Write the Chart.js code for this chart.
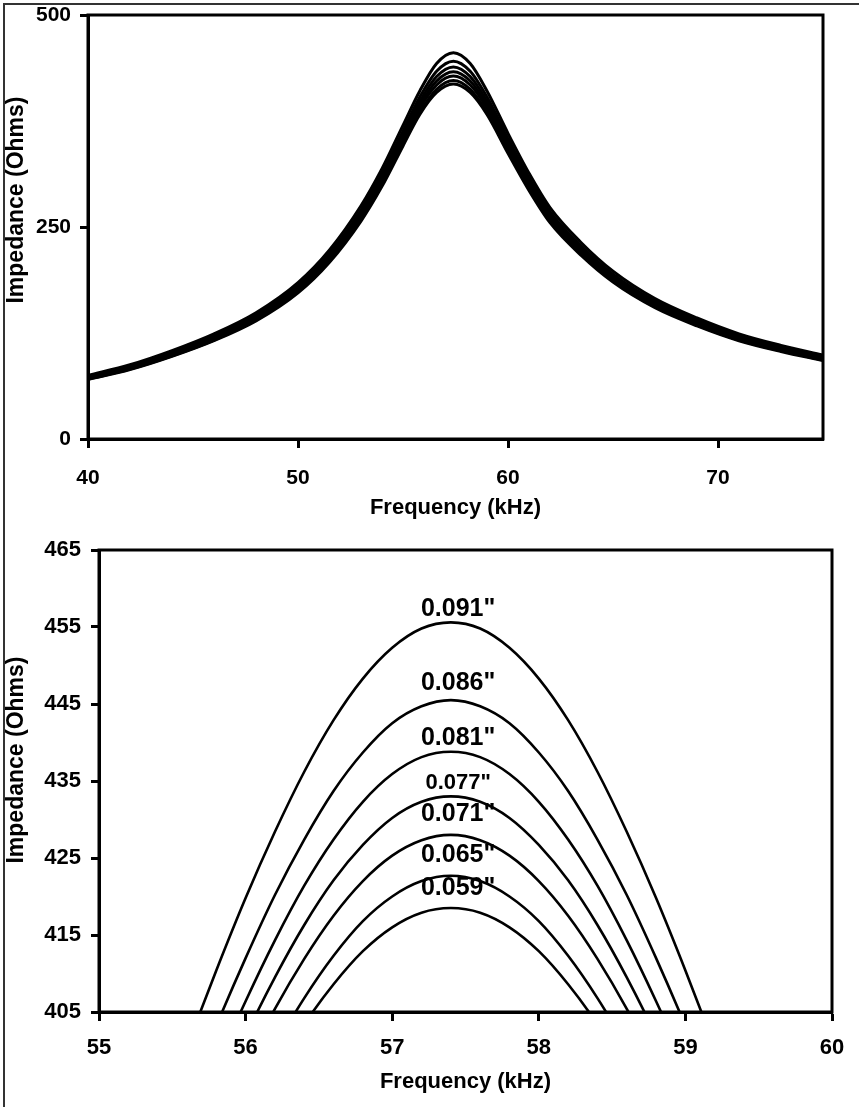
<!DOCTYPE html>
<html><head><meta charset="utf-8">
<script src="https://cdn.jsdelivr.net/npm/chart.js@4.4.1/dist/chart.umd.min.js"></script>
<style>
html,body{margin:0;padding:0;background:#fff;width:859px;height:1107px;overflow:hidden;position:relative}
#frame{position:absolute;left:3px;top:3px;width:900px;height:1200px;border-left:2px solid #333;border-top:2px solid #333;box-sizing:border-box}
.box{position:absolute;left:0;width:859px}
#topBox{top:0;height:530px}
#botBox{top:530px;height:577px}
canvas{display:block}
</style></head><body>
<div id="frame"></div>
<div class="box" id="topBox"><canvas id="topChart" width="859" height="530"></canvas></div>
<div class="box" id="botBox"><canvas id="botChart" width="859" height="577"></canvas></div>
<script>
// ---------- data ----------
const seriesNames = ['0.091"', '0.086"', '0.081"', '0.077"', '0.071"', '0.065"', '0.059"'];

// Top chart: full sweep 40-75 kHz
const topFreq = [40, 42, 44, 46, 48, 50, 51.5, 53, 54, 55, 55.8, 56.6, 57.4, 58.2, 59, 60, 61, 62, 63.5, 65, 67, 69, 71, 73, 75];
const top091 = [75.0, 87.5, 104.2, 124.0, 148.9, 184.4, 222.9, 275.0, 318.7, 369.8, 410.4, 442.9, 455.6, 442.9, 410.4, 360.4, 313.5, 272.9, 231.2, 197.9, 165.6, 142.7, 124.0, 110.4, 99.0];
const top086 = [73.7, 85.9, 102.3, 121.8, 146.3, 181.1, 219.0, 270.1, 313.1, 363.2, 403.2, 433.7, 445.5, 433.7, 403.2, 354.0, 308.0, 268.1, 227.2, 194.4, 162.7, 140.2, 121.8, 108.5, 97.2];
const top081 = [72.7, 84.9, 101.0, 120.2, 144.5, 178.8, 216.2, 266.7, 309.2, 358.7, 397.9, 427.4, 438.8, 427.4, 397.9, 349.6, 304.1, 264.7, 224.3, 192.0, 160.7, 138.4, 120.2, 107.1, 96.0];
const top077 = [72.0, 84.0, 100.0, 119.0, 143.0, 177.0, 214.0, 264.0, 306.0, 355.0, 393.6, 422.1, 433.0, 422.1, 393.6, 346.0, 301.0, 262.0, 222.0, 190.0, 159.0, 137.0, 119.0, 106.0, 95.0];
const top071 = [71.3, 83.2, 99.0, 117.9, 141.6, 175.3, 211.9, 261.5, 303.1, 351.6, 390.1, 417.5, 428.0, 417.5, 390.1, 342.7, 298.1, 259.5, 219.9, 188.2, 157.5, 135.7, 117.9, 105.0, 94.1];
const top065 = [70.6, 82.4, 98.1, 116.7, 140.3, 173.6, 209.9, 258.9, 300.1, 348.2, 385.3, 412.3, 422.7, 412.3, 385.3, 339.4, 295.2, 257.0, 217.7, 186.4, 155.9, 134.4, 116.7, 104.0, 93.2];
const top059 = [70.1, 81.8, 97.4, 115.9, 139.2, 172.3, 208.4, 257.0, 297.9, 345.6, 382.7, 408.6, 418.5, 408.6, 382.7, 336.9, 293.1, 255.1, 216.1, 185.0, 154.8, 133.4, 115.9, 103.2, 92.5];
const topXTicks = [40, 50, 60, 70];
const topYTicks = [0, 250, 500];

// Bottom chart: zoom on the resonance peak
const zoomFreq = [55.4, 55.6, 55.8, 56.0, 56.2, 56.4, 56.6, 56.8, 57.0, 57.2, 57.4, 57.6, 57.8, 58.0, 58.2, 58.4, 58.6, 58.8, 59.0, 59.2, 59.4];
const zoom091 = [390.2, 400.5, 410.4, 419.8, 428.4, 436.2, 442.9, 448.3, 452.3, 454.8, 455.6, 454.8, 452.3, 448.3, 442.9, 436.2, 428.4, 419.8, 410.4, 400.5, 390.2];
const zoom086 = [384.1, 393.8, 403.2, 412.0, 420.2, 427.4, 433.7, 438.7, 442.5, 444.7, 445.5, 444.7, 442.5, 438.7, 433.7, 427.4, 420.2, 412.0, 403.2, 393.8, 384.1];
const zoom081 = [379.4, 388.8, 397.9, 406.4, 414.3, 421.4, 427.4, 432.3, 435.9, 438.1, 438.8, 438.1, 435.9, 432.3, 427.4, 421.4, 414.3, 406.4, 397.9, 388.8, 379.4];
const zoom077 = [375.7, 384.8, 393.6, 401.9, 409.5, 416.3, 422.1, 426.7, 430.2, 432.3, 433.0, 432.3, 430.2, 426.7, 422.1, 416.3, 409.5, 401.9, 393.6, 384.8, 375.7];
const zoom071 = [372.7, 381.6, 390.1, 398.0, 405.4, 411.9, 417.5, 422.0, 425.3, 427.3, 428.0, 427.3, 425.3, 422.0, 417.5, 411.9, 405.4, 398.0, 390.1, 381.6, 372.7];
const zoom065 = [368.2, 376.9, 385.3, 393.2, 400.4, 406.8, 412.3, 416.8, 420.0, 422.0, 422.7, 422.0, 420.0, 416.8, 412.3, 406.8, 400.4, 393.2, 385.3, 376.9, 368.2];
const zoom059 = [366.2, 374.6, 382.7, 390.2, 397.2, 403.4, 408.6, 412.9, 416.0, 417.9, 418.5, 417.9, 416.0, 412.9, 408.6, 403.4, 397.2, 390.2, 382.7, 374.6, 366.2];
const zoomXTicks = [55, 56, 57, 58, 59, 60];
const zoomYTicks = [405, 415, 425, 435, 445, 455, 465];
const labelFreq = 57.45;

// ---------- rendering ----------
const FONT = "'Liberation Sans', Arial, Helvetica, sans-serif";
Chart.defaults.color = '#000';
Chart.defaults.font.family = FONT;

function makeDatasets(freqs, arrays, width) {
  return arrays.map((vals, i) => ({
    label: seriesNames[i],
    data: freqs.map((f, j) => ({x: f, y: vals[j]})),
    borderColor: '#000',
    borderWidth: width,
    pointRadius: 0,
    pointHoverRadius: 0,
    fill: false,
    cubicInterpolationMode: 'monotone',
    clip: 0
  }));
}

const frameBox = {
  id: 'frameBox',
  afterDatasetsDraw(chart) {
    const {ctx, chartArea: a} = chart;
    ctx.save();
    ctx.strokeStyle = '#000';
    ctx.lineWidth = 3;
    ctx.strokeRect(a.left, a.top, a.right - a.left, a.bottom - a.top);
    ctx.restore();
  }
};

const peakLabels = {
  id: 'peakLabels',
  afterDatasetsDraw(chart, args, opts) {
    if (!opts || !opts.offsets) return;
    const {ctx} = chart;
    const xs = chart.scales.x, ys = chart.scales.y;
    chart.data.datasets.forEach((ds, i) => {
      const peak = Math.max(...ds.data.map(p => p.y));
      const px = xs.getPixelForValue(labelFreq);
      const py = ys.getPixelForValue(peak) + opts.offsets[i];
      ctx.save();
      ctx.font = 'bold ' + opts.sizes[i] + 'px ' + FONT;
      ctx.fillStyle = '#000';
      ctx.textAlign = 'center';
      ctx.textBaseline = 'middle';
      ctx.fillText(ds.label, px, py);
      ctx.restore();
    });
  }
};

const yTitle = {
  id: 'yTitle',
  afterDraw(chart, args, opts) {
    if (!opts || !opts.text) return;
    const ctx = chart.ctx;
    ctx.save();
    ctx.translate(opts.x, opts.y);
    ctx.rotate(-Math.PI / 2);
    ctx.font = 'bold ' + opts.size + 'px ' + FONT;
    ctx.fillStyle = '#000';
    ctx.textAlign = 'center';
    ctx.textBaseline = 'middle';
    ctx.fillText(opts.text, 0, 0);
    ctx.restore();
  }
};

function axisCommon(tickLen) {
  return {
    grid: {display: true, drawOnChartArea: false, drawTicks: true, tickLength: tickLen, tickWidth: 3, tickColor: '#000', color: '#000'},
    border: {display: true, color: '#000', width: 3}
  };
}

function makeChart(id, cfg) {
  return new Chart(document.getElementById(id), {
    type: 'line',
    data: {datasets: makeDatasets(cfg.freqs, cfg.arrays, cfg.lineWidth)},
    options: {
      responsive: false,
      animation: false,
      devicePixelRatio: 1,
      layout: {padding: cfg.padding},
      plugins: {
        legend: {display: false},
        tooltip: {enabled: false},
        peakLabels: cfg.labels || false,
        yTitle: {text: 'Impedance (Ohms)', x: cfg.yTitleX, y: cfg.yTitleY, size: cfg.yTitleSize}
      },
      scales: {
        x: Object.assign(axisCommon(9), {
          type: 'linear', min: cfg.xMin, max: cfg.xMax,
          afterBuildTicks: s => { s.ticks = cfg.xTicks.map(v => ({value: v})); },
          afterFit: s => { s.height = cfg.xHeight; s.paddingLeft = 0; s.paddingRight = 0; },
          ticks: {font: {size: cfg.tickSize, weight: 'bold'}, color: '#000', padding: cfg.xPad, maxRotation: 0, autoSkip: false},
          title: {display: true, text: 'Frequency (kHz)', color: '#000', font: {size: cfg.titleSize, weight: 'bold'}, padding: {top: 0, bottom: cfg.xTitlePad}}
        }),
        y: Object.assign(axisCommon(8), {
          type: 'linear', min: cfg.yMin, max: cfg.yMax,
          afterBuildTicks: s => { s.ticks = cfg.yTicks.map(v => ({value: v})); },
          afterFit: s => { s.width = cfg.yWidth; s.paddingTop = 0; s.paddingBottom = 0; },
          ticks: {font: {size: cfg.tickSize, weight: 'bold'}, color: '#000', padding: cfg.yPad, autoSkip: false}
        })
      }
    },
    plugins: [frameBox, peakLabels, yTitle]
  });
}

makeChart('topChart', {
  freqs: topFreq,
  arrays: [top091, top086, top081, top077, top071, top065, top059],
  lineWidth: 3,
  padding: {top: 15, right: 36, left: 0, bottom: 0},
  xMin: 40, xMax: 75, xTicks: topXTicks,
  yMin: 0, yMax: 500, yTicks: topYTicks,
  xHeight: 91, yWidth: 88,
  tickSize: 21, titleSize: 22, yTitleSize: 23,
  xPad: 18, yPad: 9, xTitlePad: 9,
  yTitleX: 17, yTitleY: 200
});

makeChart('botChart', {
  freqs: zoomFreq,
  arrays: [zoom091, zoom086, zoom081, zoom077, zoom071, zoom065, zoom059],
  lineWidth: 2.6,
  padding: {top: 20, right: 27, left: 0, bottom: 0},
  xMin: 55, xMax: 60, xTicks: zoomXTicks,
  yMin: 405, yMax: 465, yTicks: zoomYTicks,
  xHeight: 95, yWidth: 99,
  tickSize: 22, titleSize: 22, yTitleSize: 23,
  xPad: 14, yPad: 10, xTitlePad: 12,
  yTitleX: 17, yTitleY: 230,
  labels: {offsets: [-13.5, -17, -14, -13, -21, -21, -20], sizes: [25, 25, 25, 22, 25, 25, 25]}
});
</script>
</body></html>
